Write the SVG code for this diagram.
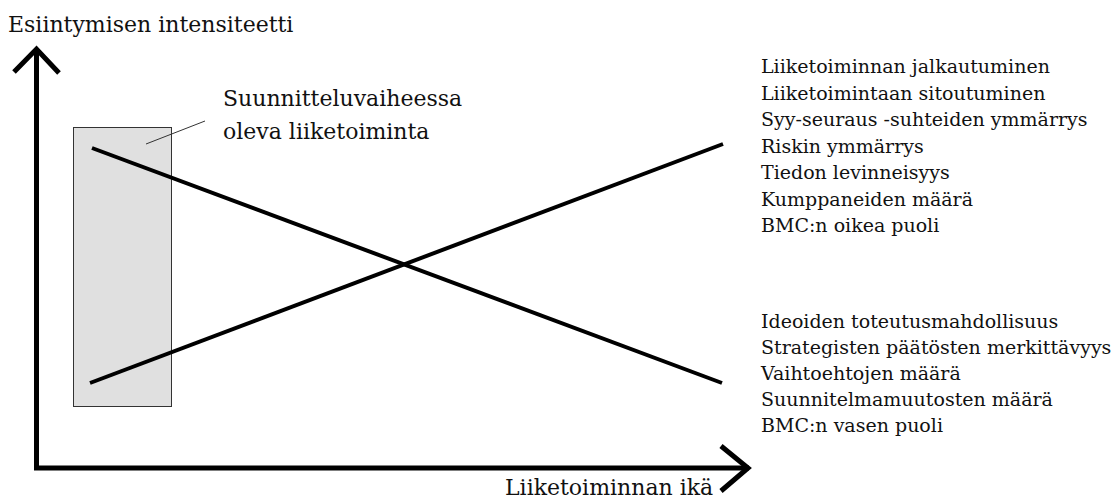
<svg xmlns="http://www.w3.org/2000/svg" width="1116" height="502" viewBox="0 0 1116 502">
<style>
  text { font-family: "DejaVu Serif", "Liberation Serif", serif; fill: #111; }
  .lbl { font-size: 22px; }
  .lst { font-size: 19px; }
  .axis { fill: none; stroke: #000; stroke-width: 5; stroke-linejoin: miter; stroke-linecap: butt; }
  .head { fill: none; stroke: #000; stroke-width: 5; stroke-linejoin: miter; stroke-linecap: butt; }
  .trend { stroke: #000; stroke-width: 4; stroke-linecap: butt; }
  .leader { stroke: #333; stroke-width: 1; }
</style>
<rect width="1116" height="502" fill="#fff"/>
<g id="planning-box">
  <rect x="73.5" y="127.5" width="98" height="279" fill="#e0e0e0" stroke="#333" stroke-width="1"/>
</g>
<g id="connectors">
  <polyline class="axis" points="36.5,50 36.5,468 749,468"/>
  <polyline class="head" points="14,72 36.5,49 59,73"/>
  <polyline class="head" points="721,446 748,468 721,491"/>
  <line class="trend" x1="92" y1="148" x2="722" y2="383"/>
  <line class="trend" x1="90" y1="383" x2="723" y2="144"/>
  <line class="leader" x1="146" y1="144" x2="205" y2="121"/>
</g>
<g id="y-label">
  <text class="lbl" x="8" y="32">Esiintymisen intensiteetti</text>
</g>
<g id="x-label">
  <text class="lbl" x="505" y="495">Liiketoiminnan ikä</text>
</g>
<g id="box-label">
  <text class="lbl" x="223" y="106">Suunnitteluvaiheessa</text>
  <text class="lbl" x="223" y="139">oleva liiketoiminta</text>
</g>
<g id="rising-list">
  <text class="lst" x="761" y="73">Liiketoiminnan jalkautuminen</text>
  <text class="lst" x="761" y="99.5">Liiketoimintaan sitoutuminen</text>
  <text class="lst" x="761" y="126">Syy-seuraus -suhteiden ymmärrys</text>
  <text class="lst" x="761" y="152.5">Riskin ymmärrys</text>
  <text class="lst" x="761" y="179">Tiedon levinneisyys</text>
  <text class="lst" x="761" y="205.5">Kumppaneiden määrä</text>
  <text class="lst" x="761" y="232">BMC:n oikea puoli</text>
</g>
<g id="falling-list">
  <text class="lst" x="761" y="328">Ideoiden toteutusmahdollisuus</text>
  <text class="lst" x="761" y="354">Strategisten päätösten merkittävyys</text>
  <text class="lst" x="761" y="380">Vaihtoehtojen määrä</text>
  <text class="lst" x="761" y="406">Suunnitelmamuutosten määrä</text>
  <text class="lst" x="761" y="432">BMC:n vasen puoli</text>
</g>
</svg>
